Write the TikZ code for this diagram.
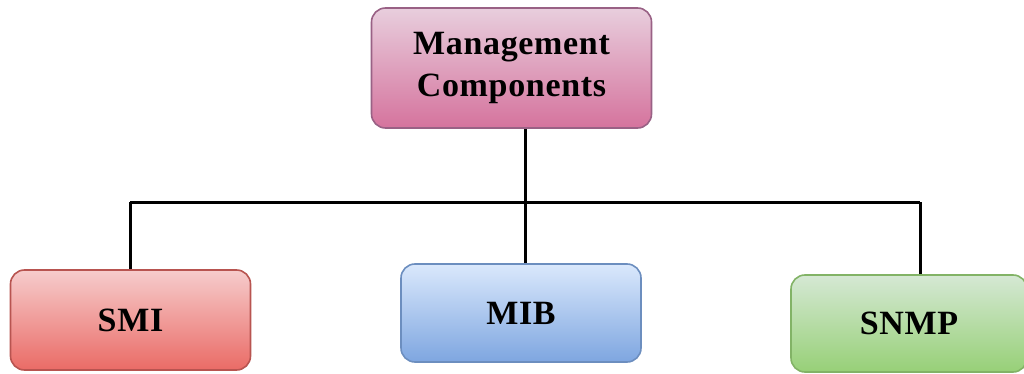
\documentclass[tikz,border=0pt]{standalone}
\usepackage{fontspec}
\setmainfont{Liberation Serif}
\begin{document}
\begin{tikzpicture}[x=1pt,y=-1pt,
  box/.style={draw, line width=1.6pt, rounded corners=14pt, inner sep=0pt,
    font=\bfseries\fontsize{34}{40}\selectfont\addfontfeatures{LetterSpace=2}, align=center},
  pinkbox/.style={box, draw=pinkB, top color=pinkT, bottom color=pinkD},
  redbox/.style={box, draw=redB, top color=redT, bottom color=redD},
  bluebox/.style={box, draw=blueB, top color=blueT, bottom color=blueD},
  greenbox/.style={box, draw=greenB, top color=greenT, bottom color=greenD},
  link/.style={line width=3pt, black}]
\definecolor{pinkT}{HTML}{E8CEDD}
\definecolor{pinkD}{HTML}{D5739D}
\definecolor{pinkB}{HTML}{996185}
\definecolor{redT}{HTML}{F6CCCC}
\definecolor{redD}{HTML}{EA6B66}
\definecolor{redB}{HTML}{B85450}
\definecolor{blueT}{HTML}{DAE8FC}
\definecolor{blueD}{HTML}{7EA6E0}
\definecolor{blueB}{HTML}{6C8EBF}
\definecolor{greenT}{HTML}{D5E8D4}
\definecolor{greenD}{HTML}{97D077}
\definecolor{greenB}{HTML}{82B366}
\useasboundingbox (0,0) rectangle (1024,374);
\node[pinkbox, minimum width=280pt, minimum height=120pt] (mc) at (511.5,68) {Management\\[2pt]Components};
\node[redbox, minimum width=240pt, minimum height=100pt] (smi) at (130.5,320) {SMI};
\node[bluebox, minimum width=240pt, minimum height=98pt] (mib) at (521,313) {MIB};
\node[greenbox, minimum width=236pt, minimum height=97pt] (snmp) at (909,323.5) {SNMP};
\coordinate (j) at (525,202);
\coordinate (jl) at (130,202);
\coordinate (jr) at (920,202);
\draw[link] (mc.south -| j) -- (j);
\draw[link] (jl) -- (jr);
\draw[link] (jl) -- (jl |- smi.north);
\draw[link] (j) -- (j |- mib.north);
\draw[link] (jr) -- (jr |- snmp.north);
\end{tikzpicture}
\end{document}
